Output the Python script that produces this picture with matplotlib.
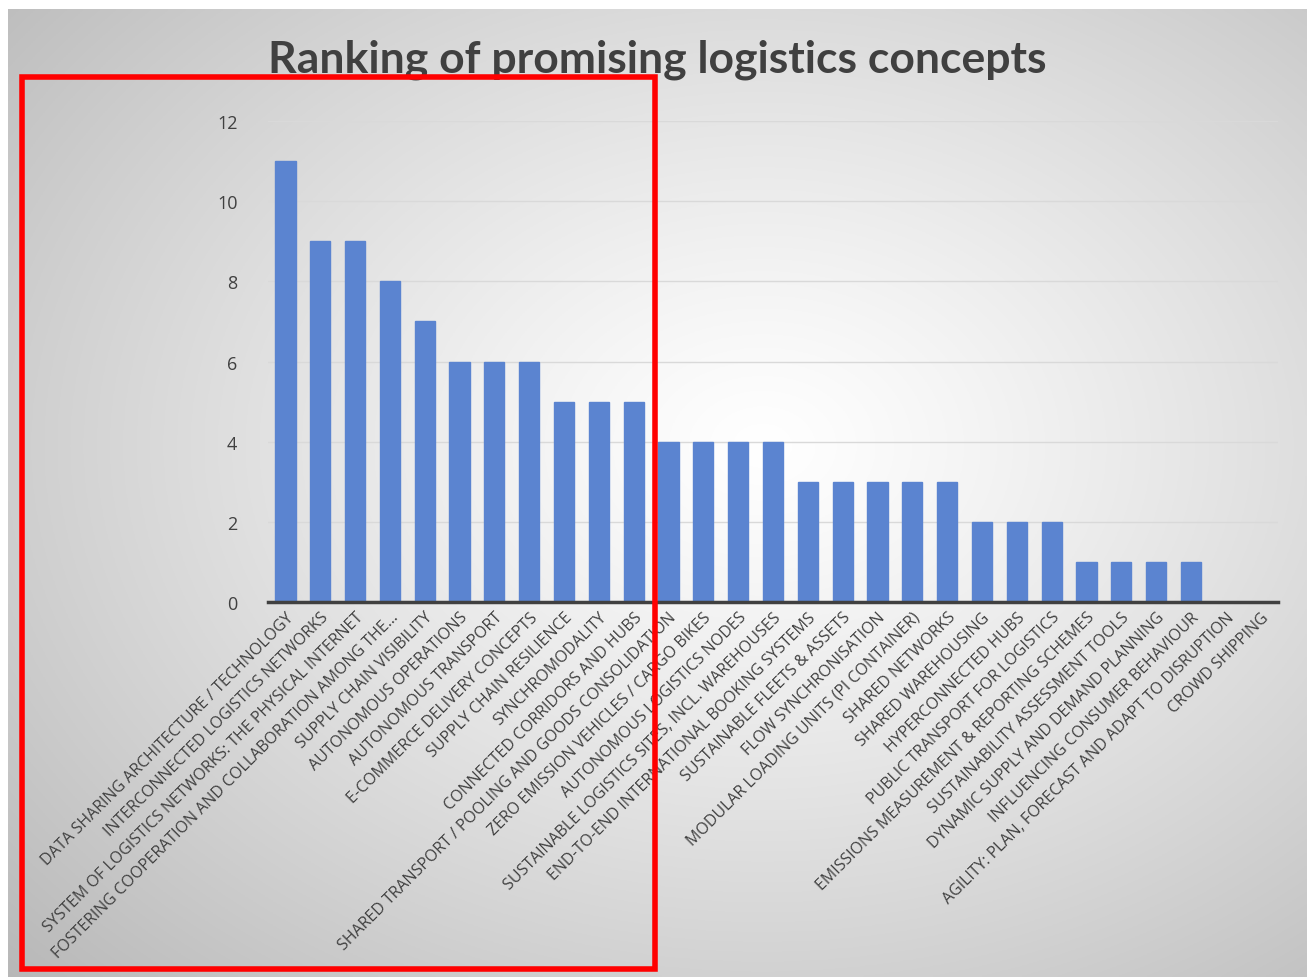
import numpy as np
import matplotlib
matplotlib.use("Agg")
import matplotlib.pyplot as plt
from matplotlib.patches import Rectangle

categories = [
    "DATA SHARING ARCHITECTURE / TECHNOLOGY",
    "INTERCONNECTED LOGISTICS NETWORKS",
    "SYSTEM OF LOGISTICS NETWORKS: THE PHYSICAL INTERNET",
    "FOSTERING COOPERATION AND COLLABORATION AMONG THE...",
    "SUPPLY CHAIN VISIBILITY",
    "AUTONOMOUS OPERATIONS",
    "AUTONOMOUS TRANSPORT",
    "E-COMMERCE DELIVERY CONCEPTS",
    "SUPPLY CHAIN RESILIENCE",
    "SYNCHROMODALITY",
    "CONNECTED CORRIDORS AND HUBS",
    "SHARED TRANSPORT / POOLING AND GOODS CONSOLIDATION",
    "ZERO EMISSION VEHICLES / CARGO BIKES",
    "AUTONOMOUS LOGISTICS NODES",
    "SUSTAINABLE LOGISTICS SITES, INCL. WAREHOUSES",
    "END-TO-END INTERNATIONAL BOOKING SYSTEMS",
    "SUSTAINABLE FLEETS & ASSETS",
    "FLOW SYNCHRONISATION",
    "MODULAR LOADING UNITS (PI CONTAINER)",
    "SHARED NETWORKS",
    "SHARED WAREHOUSING",
    "HYPERCONNECTED HUBS",
    "PUBLIC TRANSPORT FOR LOGISTICS",
    "EMISSIONS MEASUREMENT & REPORTING SCHEMES",
    "SUSTAINABILITY ASSESSMENT TOOLS",
    "DYNAMIC SUPPLY AND DEMAND PLANNING",
    "INFLUENCING CONSUMER BEHAVIOUR",
    "AGILITY: PLAN, FORECAST AND ADAPT TO DISRUPTION",
    "CROWD SHIPPING",
]
values = [11, 9, 9, 8, 7, 6, 6, 6, 5, 5, 5, 4, 4, 4, 4, 3, 3, 3, 3, 3, 2, 2, 2, 1, 1, 1, 1, 0, 0]
yticks = [0, 2, 4, 6, 8, 10, 12]
title = "Ranking of promising logistics concepts"

W, H = 1307, 978
fig = plt.figure(figsize=(W / 100, H / 100), dpi=100)
fig.patch.set_facecolor("white")

# radial gradient background
bg = fig.add_axes([8 / W, 0, 1 - 8 / W, (H - 10) / H], zorder=-10)
ny, nx = 400, 520
yy, xx = np.mgrid[0:ny, 0:nx]
cx, cy = nx * 0.58, ny * 0.45
r = np.sqrt(((xx - cx) / nx) ** 2 + ((yy - cy) / ny) ** 2)
r = r / r.max()
val = 1.0 - 0.28 * np.clip(r, 0, 1) ** 1.2
img = np.dstack([val, val, val])
bg.imshow(img, aspect="auto", extent=[0, 1, 0, 1], origin="upper")
bg.set_axis_off()

ax = fig.add_axes([268 / W, (H - 603) / H, (1278 - 268) / W, (603 - 122) / H])
ax.patch.set_alpha(0)
x = np.arange(len(categories))
ax.bar(x, values, width=0.58, color="#5b84d0", edgecolor="#5b84d0", zorder=3)
ax.set_xlim(-0.5, len(categories) - 0.5)
ax.set_ylim(0, 12)
ax.set_yticks(yticks)
ax.set_yticklabels([str(v) for v in yticks], fontsize=13, color="#404040", family="Open Sans")
ax.yaxis.grid(True, color="#d9d9d9", linewidth=1.0, zorder=0)
ax.set_axisbelow(True)
for s in ["top", "right", "left"]:
    ax.spines[s].set_visible(False)
ax.spines["bottom"].set_color("#404040")
ax.spines["bottom"].set_linewidth(2.5)
ax.spines["bottom"].set_zorder(4)
ax.tick_params(axis="y", length=0, pad=22)
ax.tick_params(axis="x", length=0, pad=5)
ax.set_xticks(x)
ax.set_xticklabels(categories, rotation=45, ha="right", rotation_mode="anchor",
                   fontsize=11.5, color="#404040", family="Open Sans")

fig.text(657 / W, (H - 60) / H, title, ha="center", va="center",
         fontsize=32, fontweight="bold", color="#404040", family="Lato")

# red highlight rectangle
fig.patches.append(Rectangle((22 / W, (H - 970) / H), (655 - 22) / W, (970 - 78) / H,
                             transform=fig.transFigure, fill=False,
                             edgecolor="#ff0000", linewidth=4, zorder=20))

fig.savefig("out.png", dpi=100)
